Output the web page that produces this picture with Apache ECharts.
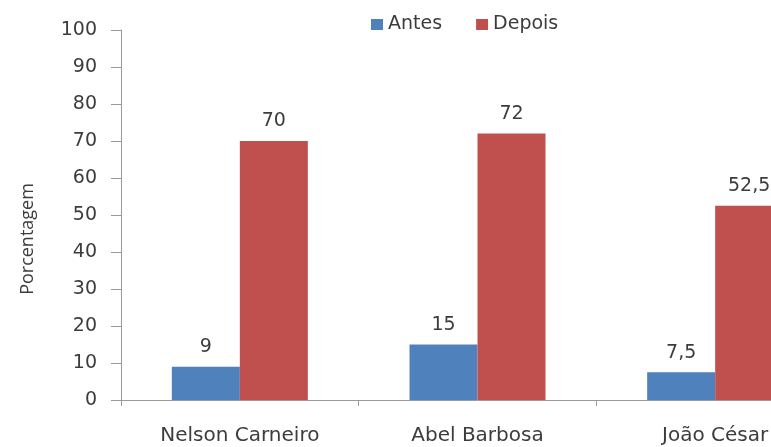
<!DOCTYPE html>
<html>
<head>
<meta charset="utf-8">
<script src="https://cdn.jsdelivr.net/npm/echarts@6/dist/echarts.min.js"></script>
<style>
  html, body { margin: 0; padding: 0; background: #ffffff; overflow: hidden; width: 771px; height: 447px; }
  /* canvas is wider than the window: the last group runs off the right edge */
  #chart { width: 850px; height: 447px; }
</style>
</head>
<body>
<div id="chart"></div>
<script>
// Municipalities compared before and after
const categories = ['Nelson Carneiro', 'Abel Barbosa', 'João César'];
const antes = [9, 15, 7.5];
const depois = [70, 72, 52.5];
const seriesNames = ['Antes', 'Depois'];
const yTicks = { min: 0, max: 100, step: 10 };

const textColor = '#3c3c3c';
const axisColor = '#9a9a9a';
const wideFont = 'DejaVu Sans';

// Portuguese decimal comma for value labels
const fmt = v => String(v).replace('.', ',');

const chart = echarts.init(document.getElementById('chart'), null, { renderer: 'canvas' });

const labelStyle = {
  show: true,
  position: 'top',
  distance: 10,
  color: textColor,
  fontFamily: wideFont,
  fontSize: 19,
  formatter: p => fmt(p.value)
};

chart.setOption({
  animation: false,
  backgroundColor: '#ffffff',
  legend: {
    data: seriesNames,
    left: 366,
    top: 10,
    itemWidth: 12,
    itemHeight: 11,
    itemGap: 34,
    icon: 'rect',
    textStyle: { color: textColor, fontFamily: wideFont, fontSize: 19 }
  },
  grid: { left: 121, top: 30, bottom: 47, width: 713, containLabel: false },
  xAxis: {
    type: 'category',
    data: categories,
    axisLine: { lineStyle: { color: axisColor, width: 1 } },
    axisTick: { show: true, interval: 0, length: 6, lineStyle: { color: axisColor } },
    axisLabel: { interval: 0, margin: 26, color: textColor, fontFamily: wideFont, fontSize: 20 }
  },
  yAxis: {
    type: 'value',
    min: yTicks.min,
    max: yTicks.max,
    interval: yTicks.step,
    name: 'Porcentagem',
    nameLocation: 'middle',
    nameRotate: 90,
    nameGap: 84,
    nameTextStyle: { color: textColor, fontFamily: 'Open Sans', fontSize: 18, padding: [0, 48, 0, 0] },
    splitLine: { show: false },
    axisLine: { show: true, lineStyle: { color: axisColor, width: 1 } },
    axisTick: { show: true, length: 10, lineStyle: { color: axisColor } },
    axisLabel: { margin: 24, color: textColor, fontFamily: wideFont, fontSize: 19 }
  },
  series: [
    {
      name: seriesNames[0],
      type: 'bar',
      data: antes,
      barWidth: 68,
      barGap: '0%',
      itemStyle: { color: '#4F81BD' },
      label: labelStyle
    },
    {
      name: seriesNames[1],
      type: 'bar',
      data: depois,
      barWidth: 68,
      barGap: '0%',
      itemStyle: { color: '#C0504D' },
      label: labelStyle
    }
  ]
});
</script>
</body>
</html>
